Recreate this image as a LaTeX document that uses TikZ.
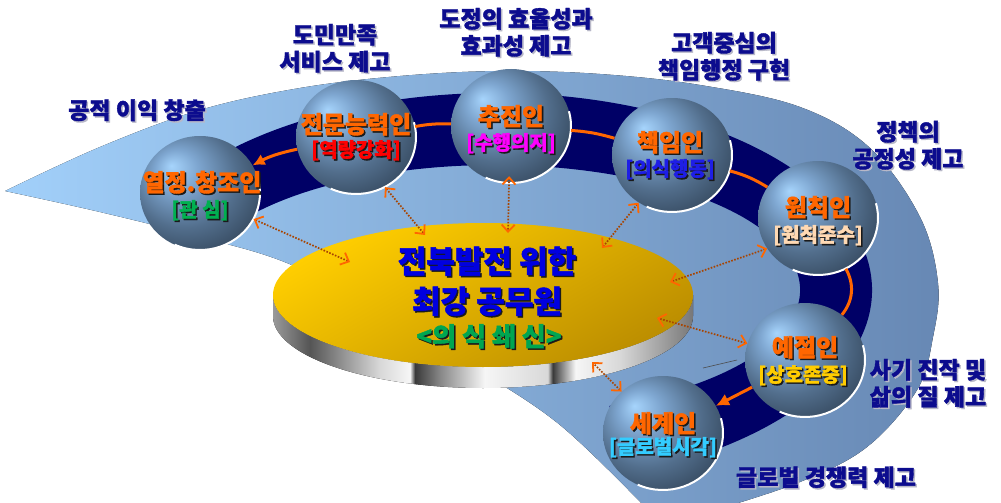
\documentclass[tikz,border=0pt]{standalone}
\usepackage{fontspec}
\setmainfont{Noto Sans CJK KR}[BoldFeatures={FakeBold=1.6}]
\usetikzlibrary{shapes.geometric,arrows.meta}
\definecolor{skyL}{HTML}{A2D0FA}
\definecolor{skyR}{HTML}{6788B4}
\definecolor{navy}{HTML}{000066}
\definecolor{ornc}{HTML}{FF6600}
\definecolor{linkc}{HTML}{A84400}
\definecolor{lblc}{HTML}{0C0C8E}
\definecolor{shk}{HTML}{1A1A1A}
\definecolor{shg}{HTML}{B8B8C8}
\definecolor{coreT}{HTML}{FFCE00}
\definecolor{coreB}{HTML}{BC8E00}
\definecolor{ctb}{HTML}{0000E0}
\definecolor{ctg}{HTML}{00A651}
\definecolor{sphA}{HTML}{A6D4FC}
\definecolor{sphB}{HTML}{7EA6D0}
\definecolor{sphC}{HTML}{526E8C}
\definecolor{sphD}{HTML}{33465B}
\definecolor{sphE}{HTML}{2A394B}
\definecolor{m1}{HTML}{9A9A9A}
\definecolor{m2}{HTML}{555555}
\definecolor{m3}{HTML}{D8D8D8}
\definecolor{m4}{HTML}{F6F6F6}
\definecolor{m5}{HTML}{3A3A3A}
\definecolor{m6}{HTML}{8A8A8A}
\definecolor{m7}{HTML}{777777}
\definecolor{bgreen}{HTML}{00B050}
\definecolor{bred}{HTML}{FF0000}
\definecolor{bmag}{HTML}{FF00FF}
\definecolor{bblue}{HTML}{1E1EE6}
\definecolor{bpeach}{HTML}{FFD9B3}
\definecolor{byel}{HTML}{FFCC00}
\definecolor{bcyan}{HTML}{33CCFF}
\pgfdeclareradialshading{sphereshade}{\pgfpoint{-12bp}{12bp}}{color(0bp)=(sphA); color(9bp)=(sphB); color(22bp)=(sphC); color(34bp)=(sphD); color(50bp)=(sphE)}
\pgfdeclarehorizontalshading{metal}{100bp}{color(0bp)=(m1); color(25bp)=(m1); color(29.4bp)=(m2); color(37.7bp)=(m3); color(41.3bp)=(m4); color(41.9bp)=(m5); color(45bp)=(m6); color(50.2bp)=(m4); color(57.7bp)=(m3); color(58.3bp)=(m5); color(61bp)=(m4); color(66.3bp)=(m3); color(75bp)=(m7); color(100bp)=(m7)}
\newcommand{\myfs}[2]{\fontsize{#1}{#2}\selectfont}
\newcommand{\shd}[3]{\makebox[0pt][l]{\kern1.5pt\raisebox{-1.5pt}{\textcolor{#1}{#3}}}\textcolor{#2}{#3}}
\begin{document}
\begin{tikzpicture}[x=1pt,y=-1pt,
  lbl/.style={inner sep=0, align=center, font=\bfseries\myfs{23}{27}},
  cname/.style={inner sep=0, font=\bfseries\myfs{24}{27}},
  cbr/.style={inner sep=0, font=\bfseries\myfs{20}{24}},
  sphere/.style={ellipse, minimum width=120, minimum height=114, inner sep=0, shading=sphereshade},
  rim/.style={draw=white, line width=2pt},
  ring/.style={draw=ornc, line width=3pt},
  link/.style={draw=linkc, line width=1.7pt, dash pattern=on 1.6pt off 1.5pt,
    arrows={Straight Barb[length=7pt,width=13pt,line width=1.8pt,color=ornc]-Straight Barb[length=7pt,width=13pt,line width=1.8pt,color=ornc]}}]
\useasboundingbox (0,0) rectangle (1001,503);
\clip (0,0) rectangle (1001,503);
% light blue swoosh
\fill[left color=skyL, right color=skyR] plot[smooth, tension=0.6] coordinates {(5,191) (100,147) (200,110) (300,88) (400,76) (500,71) (600,74) (700,85) (800,107) (870,148) (920,217) (938,283) (933,337) (917,390) (867,447) (800,482) (715,510)} -- (648,510) -- plot[smooth, tension=0.6] coordinates {(648,510) (560,425) (470,365) (380,310) (287,263) (200,237) (100,212) (5,191)} -- cycle;
% dark ring band
\fill[navy] (168.5,191.5) arc[start angle=-150,end angle=68,x radius=377,y radius=197] -- (609.3,405.9) arc[start angle=68,end angle=-150,x radius=305,y radius=125] -- cycle;
\draw[gray!60!black, line width=0.6pt] (703,368) -- (737,360);
% core disk
\fill[shading=metal] (273,295) -- (273,316) arc[start angle=180,end angle=0,x radius=210,y radius=72] -- (693,295) arc[start angle=0,end angle=180,x radius=210,y radius=72] -- cycle;
\node[ellipse, minimum width=420, minimum height=144, inner sep=0, top color=coreT, bottom color=coreB, shading angle=30] (core) at (483,295) {};
\node[inner sep=0, font=\bfseries\myfs{31}{34}] (ct1) at (487,262) {\shd{shk}{ctb}{전북발전 위한}};
\node[inner sep=0, font=\bfseries\myfs{31}{34}] (ct2) at (487,302) {\shd{shk}{ctb}{최강 공무원}};
\node[inner sep=0, font=\bfseries\myfs{26}{30}] (ct3) at (489,337) {\shd{shk}{ctg}{<의 식 쇄 신>}};
% spheres
\node[sphere] (c1) at (200,193) {};
\node[sphere] (c2) at (356,137) {};
\node[sphere] (c3) at (511,126) {};
\node[sphere] (c4) at (672,155) {};
\node[sphere] (c5) at (818,218) {};
\node[sphere] (c6) at (805,360) {};
\node[sphere] (c7) at (663,433) {};
\foreach \c in {c1,c2,c3,c4,c5,c6,c7}{
  \draw[rim] ([shift={(115:60 and 57)}]\c.center) arc[start angle=115,end angle=-15,x radius=60,y radius=57];
}
% orange ring connectors
\draw[ring] (c3) to[bend right=6] (c2);
\draw[ring, -{Latex[length=12pt,width=12pt]}] (c2) to[bend right=8] (c1);
\draw[ring] (c3) to[bend left=6] (c4);
\draw[ring] (c4) to[bend left=8] (c5);
\draw[ring] (c5) to[bend left=34] (c6);
\draw[ring, -{Latex[length=13pt,width=13pt]}] (c6) to (c7);
% dotted links
\coordinate (k1) at (350,262);
\coordinate (k2) at (425,235);
\coordinate (k3) at (508,233);
\coordinate (k4) at (602,248);
\coordinate (k5) at (670,282);
\coordinate (k6) at (657,318);
\coordinate (k7) at (592,362);
\draw[link] (c1.-26) -- (k1);
\draw[link] (c2.-60) -- (k2);
\draw[link, shorten <=-7pt] (c3.-92) -- (k3);
\draw[link] (c4.-125) -- (k4);
\draw[link] (c5.-149) -- (k5);
\draw[link] (c6.164) -- (k6);
\draw[link] (c7.135) -- (k7);
% sphere labels
\node[cname] (n1) at (202,183) {\shd{shk}{ornc}{열정.창조인}};
\node[cbr] (b1) at (200,211) {\shd{shk}{bgreen}{[관 심]}};
\node[cname] (n2) at (356,125) {\shd{shk}{ornc}{전문능력인}};
\node[cbr] (b2) at (356,151) {\shd{shk}{bred}{[역량강화]}};
\node[cname] (n3) at (511,117) {\shd{shk}{ornc}{추진인}};
\node[cbr] (b3) at (511,144) {\shd{shk}{bmag}{[수행의지]}};
\node[cname] (n4) at (670,143) {\shd{shk}{ornc}{책임인}};
\node[cbr] (b4) at (670,170) {\shd{shk}{bblue}{[의식행동]}};
\node[cname] (n5) at (818,208) {\shd{shk}{ornc}{원칙인}};
\node[cbr] (b5) at (818,236) {\shd{shk}{bpeach}{[원칙준수]}};
\node[cname] (n6) at (805,348) {\shd{shk}{ornc}{예절인}};
\node[cbr] (b6) at (803,376) {\shd{shk}{byel}{[상호존중]}};
\node[cname] (n7) at (663,424) {\shd{shk}{ornc}{세계인}};
\node[cbr] (b7) at (663,448) {\shd{shk}{bcyan}{[글로벌시각]}};
% outer labels
\node[lbl] (t1) at (137,111) {\shd{shg}{lblc}{공적 이익 창출}};
\node[lbl] (t2) at (335,49) {\shd{shg}{lblc}{도민만족}\\\shd{shg}{lblc}{서비스 제고}};
\node[lbl] (t3) at (516,33) {\shd{shg}{lblc}{도정의 효율성과}\\\shd{shg}{lblc}{효과성 제고}};
\node[lbl] (t4) at (724,57) {\shd{shg}{lblc}{고객중심의}\\\shd{shg}{lblc}{책임행정 구현}};
\node[lbl] (t5) at (908,146) {\shd{shg}{lblc}{정책의}\\\shd{shg}{lblc}{공정성 제고}};
\node[lbl] (t6) at (928,384) {\shd{shg}{lblc}{사기 진작 및}\\\shd{shg}{lblc}{삶의 질 제고}};
\node[lbl] (t7) at (826,478) {\shd{shg}{lblc}{글로벌 경쟁력 제고}};
\end{tikzpicture}
\end{document}
